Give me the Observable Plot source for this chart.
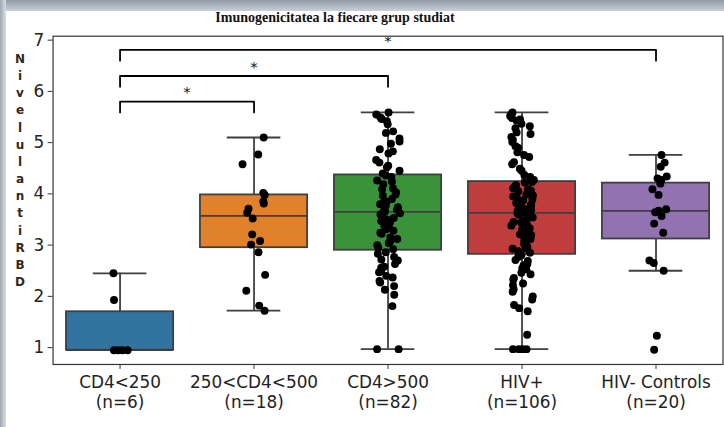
<!DOCTYPE html>
<html><head><meta charset="utf-8">
<script src="https://cdn.jsdelivr.net/npm/d3@7"></script>
<script src="https://cdn.jsdelivr.net/npm/@observablehq/plot@0.6"></script>
<style>
html,body{margin:0;padding:0;background:#fff;}
#page{position:relative;width:724px;height:427px;overflow:hidden;background:#fff;}
#chart{position:absolute;left:0;top:0;}
#topband{position:absolute;left:0;top:0;width:724px;height:11px;background:linear-gradient(to bottom,#8e9aa6,#c8d0d8);}
#leftband{position:absolute;left:0;top:0;width:6px;height:427px;background:linear-gradient(to right,#9ea8b2,#d8dee4);}
#title{position:absolute;top:10px;left:0;width:670px;text-align:center;font:bold 14px "Liberation Serif","Times New Roman",serif;color:#111;}
#ylabel{position:absolute;left:11px;top:51px;width:18px;text-align:center;white-space:pre;font:bold 12px "DejaVu Sans",sans-serif;line-height:17.15px;color:#33281a;}
</style>
</head><body>
<div id="page">
  <div id="chart"></div>
  <div id="topband"></div>
  <div id="leftband"></div>
  <div id="title">Imunogenicitatea la fiecare grup studiat</div>
  <div id="ylabel"></div>
</div>
<script>
const title = "Imunogenicitatea la fiecare grup studiat";
const yLabel = "Nivelul anti RBD";
const groups = ["CD4<250", "250<CD4<500", "CD4>500", "HIV+", "HIV- Controls"];
const counts = ["(n=6)", "(n=18)", "(n=82)", "(n=106)", "(n=20)"];
const colors = ["#3274a1", "#e1812c", "#3a923a", "#c03d3e", "#9372b2"];
const q1 = [0.95, 2.95, 2.90, 2.82, 3.12];
const median = [0.95, 3.57, 3.65, 3.63, 3.67];
const q3 = [1.70, 3.98, 4.37, 4.24, 4.21];
const whiskerLow = [0.95, 1.72, 0.97, 0.97, 2.50];
const whiskerHigh = [2.45, 5.10, 5.59, 5.59, 4.76];
const yTicks = [1, 2, 3, 4, 5, 6, 7];

const valuesCD4lt250 = [0.95, 0.95, 0.95, 0.95, 1.93, 2.45];
const valuesCD4mid = [5.10, 4.77, 4.58, 3.98, 4.02, 3.85, 3.81, 3.71, 3.63, 3.52, 3.21, 3.08, 3.01, 2.86, 2.42, 2.11, 1.82, 1.72];
const valuesCD4gt500 = [
  5.59, 5.55, 5.49, 5.46, 5.42, 5.36, 5.22, 5.19, 5.08, 5.02, 4.98, 4.87, 4.83, 4.79, 4.66, 4.61, 4.55, 4.52, 4.45, 4.40,
  4.36, 4.33, 4.26, 4.24, 4.19, 4.11, 4.09, 4.03, 3.99, 3.97, 3.90, 3.86, 3.84, 3.80, 3.77, 3.74, 3.71, 3.69, 3.67, 3.66, 3.65,
  3.62, 3.60, 3.55, 3.53, 3.50, 3.47, 3.44, 3.40, 3.38, 3.35, 3.31, 3.28, 3.24, 3.22, 3.15, 3.12, 3.07, 3.04, 3.00, 2.95, 2.92,
  2.86, 2.83, 2.77, 2.72, 2.70, 2.63, 2.58, 2.56, 2.49, 2.47, 2.40, 2.37, 2.30, 2.27, 2.20, 2.13, 2.03, 1.81, 0.97, 0.97];
const valuesHIVpos = [
  5.59, 5.56, 5.52, 5.48, 5.45, 5.43, 5.37, 5.32, 5.28, 5.20, 5.17, 5.11, 5.05, 5.01, 4.93, 4.90, 4.81, 4.76, 4.72, 4.62, 4.58, 4.49, 4.45, 4.37, 4.33, 4.27,
  4.23, 4.22, 4.17, 4.16, 4.11, 4.09, 4.06, 4.05, 3.99, 3.97, 3.95, 3.92, 3.89, 3.87, 3.86, 3.82, 3.79, 3.78, 3.75, 3.74, 3.70, 3.69, 3.67, 3.66, 3.64, 3.64, 3.63,
  3.61, 3.59, 3.54, 3.53, 3.48, 3.45, 3.44, 3.39, 3.38, 3.33, 3.30, 3.29, 3.24, 3.21, 3.20, 3.15, 3.12, 3.11, 3.06, 3.03, 3.02, 2.97, 2.94, 2.93, 2.88, 2.85, 2.83,
  2.80, 2.77, 2.71, 2.69, 2.63, 2.61, 2.55, 2.53, 2.46, 2.43, 2.36, 2.33, 2.25, 2.22, 2.14, 2.09, 2.00, 1.94, 1.83, 1.77, 1.71, 1.25, 0.97, 0.97, 0.97, 0.97];
const valuesHIVneg = [4.76, 4.61, 4.53, 4.34, 4.30, 4.27, 4.20, 4.09, 3.98, 3.70, 3.67, 3.64, 3.57, 3.42, 3.24, 2.70, 2.65, 2.50, 1.23, 0.96];

const bracketFrom = [0, 0, 0];
const bracketTo = [1, 2, 4];
const bracketLevel = [5.80, 6.30, 6.81];
const bracketText = ["*", "*", "*"];

document.getElementById("ylabel").textContent = yLabel.replace(/ /g, "").split("").join("\n");

const allValues = [valuesCD4lt250, valuesCD4mid, valuesCD4gt500, valuesHIVpos, valuesHIVneg];
const rng = d3.randomLcg(0.4217);
const points = allValues.flatMap((arr, g) => arr.map(v => ({g, v, jx: g + (rng() - 0.5) * 0.18})));
const boxes = groups.map((name, i) => ({i, name, color: colors[i], q1: q1[i], med: median[i], q3: q3[i], lo: whiskerLow[i], hi: whiskerHigh[i]}));
const drop = 0.21;
const bracketPts = bracketFrom.flatMap((a, k) => {
  const b = bracketTo[k], y = bracketLevel[k];
  return [{k, x: a, y: y - drop}, {k, x: a, y}, {k, x: b, y}, {k, x: b, y: y - drop}];
});
const stars = bracketFrom.map((a, k) => ({x: (a + bracketTo[k]) / 2, y: bracketLevel[k], t: bracketText[k]}));
const edge = "#3f3f3f";

const chart = Plot.plot({
  width: 730, height: 427,
  marginTop: 36, marginBottom: 60, marginLeft: 53, marginRight: 1.5,
  style: {fontFamily: "'DejaVu Sans', sans-serif", fontSize: "17px", color: "#222", background: "transparent"},
  x: {domain: [-0.5, 4.5], axis: null},
  y: {domain: [0.671, 7.077], axis: null},
  marks: [
    Plot.ruleX(boxes, {x: "i", y1: "lo", y2: "hi", stroke: edge, strokeWidth: 1.8}),
    Plot.rect(boxes, {x1: d => d.i - 0.4, x2: d => d.i + 0.4, y1: "q1", y2: "q3", fill: "color", stroke: edge, strokeWidth: 1.8}),
    Plot.ruleY(boxes, {y: "med", x1: d => d.i - 0.4, x2: d => d.i + 0.4, stroke: edge, strokeWidth: 1.8}),
    Plot.ruleY(boxes, {y: "hi", x1: d => d.i - 0.2, x2: d => d.i + 0.2, stroke: edge, strokeWidth: 1.8}),
    Plot.ruleY(boxes, {y: "lo", x1: d => d.i - 0.2, x2: d => d.i + 0.2, stroke: edge, strokeWidth: 1.8}),
    Plot.dot(points, {x: "jx", y: "v", r: 4, fill: "#000", stroke: null}),
    Plot.line(bracketPts, {x: "x", y: "y", z: "k", stroke: "#000", strokeWidth: 1.8}),
    Plot.text(stars, {x: "x", y: "y", text: "t", dy: -9, fontSize: 15, fill: "#111"}),
    Plot.frame({stroke: "#333", strokeWidth: 1.2}),
    Plot.axisY({ticks: yTicks, tickFormat: d => String(d), tickSize: 5, tickPadding: 4, label: null, fontSize: 17, stroke: "#333"}),
    Plot.axisX({ticks: [0, 1, 2, 3, 4], tickSize: 5, tickPadding: 4, label: null, fontSize: 17, lineHeight: 1.2,
      tickFormat: i => groups[i] + "\n" + counts[i], stroke: "#333"})
  ]
});
document.getElementById("chart").appendChild(chart);
</script>
</body></html>
